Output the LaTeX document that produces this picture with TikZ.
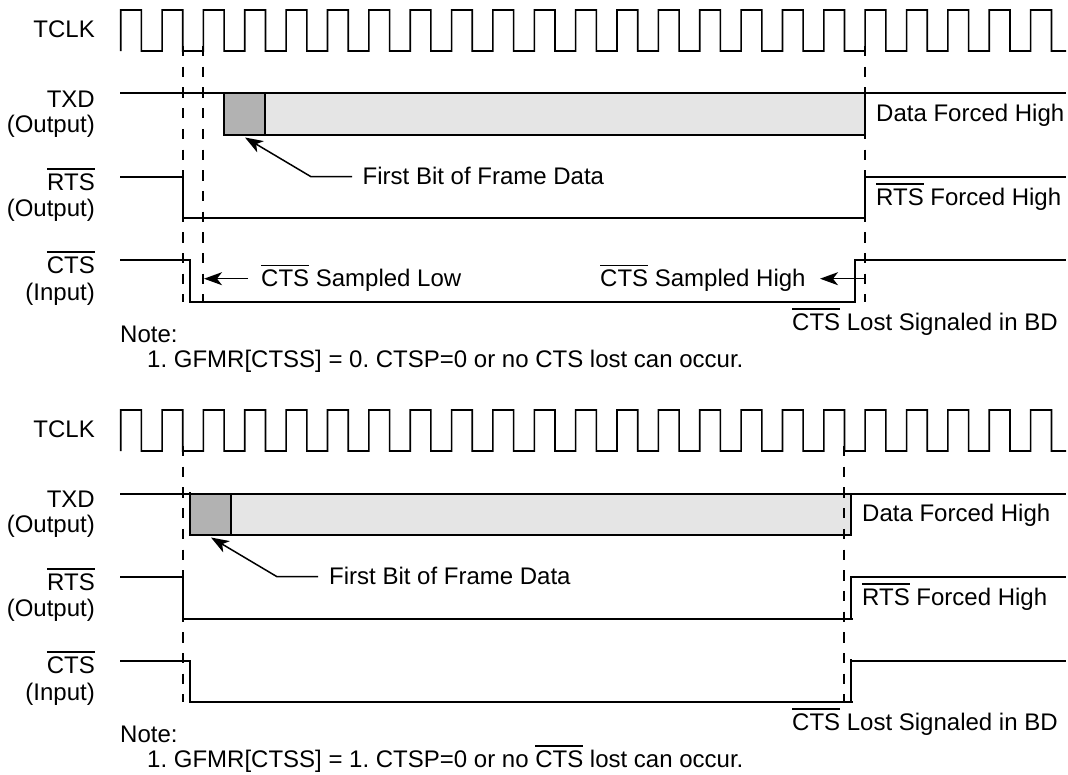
\documentclass[tikz,border=0pt]{standalone}
\usepackage{fontspec}
\setmainfont{Liberation Sans}
\usetikzlibrary{arrows.meta}
\frenchspacing
\newcommand{\ovl}[1]{\leavevmode\vbox{\hrule height 1.5pt\kern 3.6pt\hbox{#1}}}
\tikzset{
  x=1pt,y=-1pt,
  wave/.style={line width=1.6pt,line cap=butt,line join=miter},
  guide/.style={line width=1.6pt,dash pattern=on 10.3pt off 10.4pt},
  pointer/.style={line width=1.5pt,-{Stealth[length=18pt,width=13pt,inset=5pt]}},
  txt/.style={inner sep=0pt,font=\fontsize{24}{28}\selectfont\frenchspacing},
  side/.style={txt,anchor=base east},
  lab/.style={txt,anchor=base west},
}
\newcommand{\clock}[2]{%
  \draw[wave] (120.7,#2)
  \foreach \k in {0,...,21}{
    -- ({120.7+41.36*\k},#1) -- ({120.7+41.36*\k+20.7},#1) -- ({120.7+41.36*\k+20.7},#2)
    -- ({120.7+41.36*\k+41.36},#2)
  }
  -- (1030.6,#1) -- (1051.5,#1) -- (1051.5,#2) -- (1066,#2);
}
\begin{document}
\begin{tikzpicture}
\useasboundingbox (0,0) rectangle (1068,774);
\fill[white] (0,0) rectangle (1068,774);
% ---------- top diagram ----------
\clock{10}{51}
\fill[black!30] (224,92.7) rectangle (265,135);
\fill[black!10] (265,92.7) rectangle (865,135);
\draw[guide] (183,46) -- (183,302);
\draw[guide] (203,46) -- (203,302);
\draw[guide] (865,46) -- (865,302);
\draw[wave] (120,92.7) -- (1066,92.7);
\draw[wave] (224,92.7) -- (224,135);
\draw[wave] (265,92.7) -- (265,135);
\draw[wave] (223,135) -- (865,135);
\draw[wave] (865,92.7) -- (865,139);
\draw[wave] (120,176.7) -- (183,176.7) -- (183,217.7) -- (865,217.7);
\draw[wave] (865,218.5) -- (865,176.7) -- (1066,176.7);
\draw[wave] (120,259.7) -- (190,259.7) -- (190,301.7) -- (855,301.7) -- (855,259.7) -- (1066,259.7);
\node[side] (a1) at (95,37.7) {TCLK};
\node[side] (a2) at (95,107) {TXD};
\node[side] (a3) at (95,132.7) {(Output)};
\node[side] (a4) at (95,190) {\ovl{RTS}};
\node[side] (a5) at (95,216.7) {(Output)};
\node[side] (a6) at (95,273.3) {\ovl{CTS}};
\node[side] (a7) at (95,300) {(Input)};
\node[lab] (a8) at (876,121.7) {Data Forced High};
\node[lab] (a9) at (876,205) {\ovl{RTS} Forced High};
\node[lab] (a10) at (362.5,184) {First Bit of Frame Data};
\node[lab] (a11) at (261,286.7) {\ovl{CTS} Sampled Low};
\node[lab] (a12) at (600,286.7) {\ovl{CTS} Sampled High};
\node[lab] (a13) at (792,330) {\ovl{CTS} Lost Signaled in BD};
\node[lab] (a14) at (120,342.7) {Note:};
\node[lab] (a15) at (147,367.3) {1. GFMR[CTSS] = 0. CTSP=0 or no CTS lost can occur.};
\coordinate (b1) at (352,176.7);
\coordinate (b2) at (311,176.7);
\coordinate (b3) at (245,137.5);
\draw[pointer] (b1) -- (b2) -- (b3);
\coordinate (c1) at (248,278.7);
\coordinate (c2) at (204,278.7);
\draw[pointer] (c1) -- (c2);
\coordinate (d1) at (865,278.7);
\coordinate (d2) at (820,278.7);
\draw[pointer] (d1) -- (d2);
% ---------- bottom diagram ----------
\clock{410}{451}
\fill[black!30] (190,494) rectangle (231,535);
\fill[black!10] (231,494) rectangle (851,535);
\draw[guide] (183,446) -- (183,702);
\draw[guide] (844,446) -- (844,702);
\draw[wave] (120,494) -- (1066,494);
\draw[wave] (190,492) -- (190,535);
\draw[wave] (231,494) -- (231,535);
\draw[wave] (189,535) -- (851.8,535);
\draw[wave] (851,535) -- (851,494);
\draw[wave] (120,576.7) -- (183,576.7) -- (183,619) -- (853,619);
\draw[wave] (851,619) -- (851,576.7) -- (1066,576.7);
\draw[wave] (120,660.7) -- (190,660.7) -- (190,701.7) -- (853,701.7);
\draw[wave] (851,701.7) -- (851,659);
\draw[wave] (851,660.7) -- (1066,660.7);
\node[side] (e1) at (95,437.7) {TCLK};
\node[side] (e2) at (95,507.3) {TXD};
\node[side] (e3) at (95,532.7) {(Output)};
\node[side] (e4) at (95,590) {\ovl{RTS}};
\node[side] (e5) at (95,616.7) {(Output)};
\node[side] (e6) at (95,673.3) {\ovl{CTS}};
\node[side] (e7) at (95,700) {(Input)};
\node[lab] (e8) at (862,521.7) {Data Forced High};
\node[lab] (e9) at (862,605) {\ovl{RTS} Forced High};
\node[lab] (e10) at (329,584) {First Bit of Frame Data};
\node[lab] (e13) at (792,730) {\ovl{CTS} Lost Signaled in BD};
\node[lab] (e14) at (120,742.7) {Note:};
\node[lab] (e15) at (147,767.3) {1. GFMR[CTSS] = 1. CTSP=0 or no \ovl{CTS} lost can occur.};
\coordinate (f1) at (318,576.7);
\coordinate (f2) at (277,576.7);
\coordinate (f3) at (211,537.5);
\draw[pointer] (f1) -- (f2) -- (f3);
\end{tikzpicture}
\end{document}
